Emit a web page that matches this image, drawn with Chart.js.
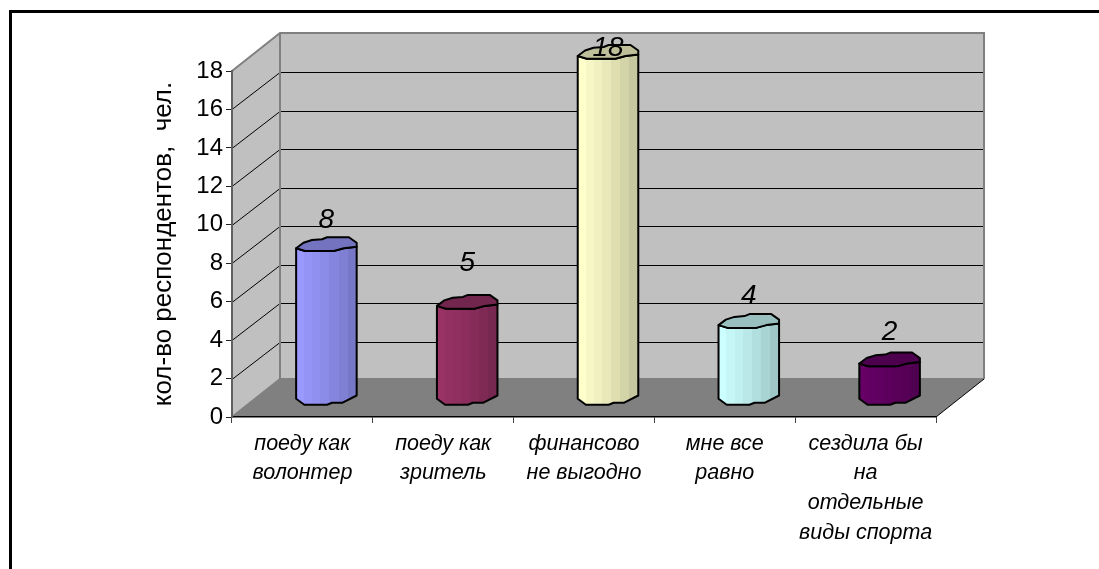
<!DOCTYPE html>
<html><head><meta charset="utf-8">
<style>
html,body{margin:0;padding:0;background:#fff;overflow:hidden}
#frame{position:absolute;left:9px;top:10px;right:0;bottom:0;border-left:3px solid #000;border-top:3px solid #000}
canvas{position:absolute;left:0;top:0}
</style>
<script src="https://cdn.jsdelivr.net/npm/chart.js@4"></script>
</head><body>
<div id="frame"></div>
<canvas id="c" width="1099" height="569"></canvas>
<script>
const categories = [
  ["поеду как","волонтер"],
  ["поеду как","зритель"],
  ["финансово","не выгодно"],
  ["мне все","равно"],
  ["сездила бы","на","отдельные","виды спорта"]
];
const values = [8,5,18,4,2];
const barColors = ["#9999ff","#993366","#ffffcc","#ccffff","#660066"];
const axisTitle = "кол-во респондентов,  чел.";
const labelLift = [25,40,5,26,28];
const FONT = '"Liberation Sans", Arial, sans-serif';
const DX = 48, DY = -38;

const topOutline = [[-1,4],[-.757,-1.5],[-.477,-4.2],[-.143,-5],[.023,-7],[.743,-7],[1,-1.5],[1,2.5],[.577,4],[.243,6.8],[-.7,6.8]];
const bottomOutline = [[-1,1.3],[-.73,7.3],[.02,7.3],[.19,5.3],[.52,5.3],[1,-2]];
const frontTop = [[1,2.5],[.577,4],[.243,6.8],[-.7,6.8],[-1,4]];

function shade(hex,f){
  const n=parseInt(hex.slice(1),16);
  return `rgb(${Math.round((n>>16&255)*f)},${Math.round((n>>8&255)*f)},${Math.round((n&255)*f)})`;
}
const backdrop = {
  id:'backdrop',
  beforeDraw(chart){
    const {ctx,chartArea:a,scales:{y}} = chart;
    const L=a.left,R=a.right,T=a.top,B=a.bottom;
    ctx.save();
    ctx.fillStyle='#c0c0c0';
    ctx.beginPath();ctx.moveTo(L,T);ctx.lineTo(L+DX,T+DY);ctx.lineTo(R+DX,T+DY);ctx.lineTo(R+DX,B+DY);ctx.lineTo(L+DX,B+DY);ctx.lineTo(L,B);ctx.closePath();ctx.fill();
    ctx.fillStyle='#808080';
    ctx.beginPath();ctx.moveTo(L,B);ctx.lineTo(L+DX,B+DY);ctx.lineTo(R+DX,B+DY);ctx.lineTo(R,B);ctx.closePath();ctx.fill();
    ctx.lineWidth=1;ctx.strokeStyle='#000';
    y.ticks.forEach(t=>{
      if(t.value===0||t.value===18) return;
      const p=Math.round(y.getPixelForValue(t.value))+.5;
      ctx.beginPath();ctx.moveTo(L,p);ctx.lineTo(L+DX,p+DY+1);ctx.lineTo(R+DX,p+DY+1);ctx.stroke();
    });
    ctx.strokeStyle='#808080';ctx.lineWidth=2;
    ctx.beginPath();ctx.moveTo(L,T);ctx.lineTo(L+DX,T+DY);ctx.lineTo(R+DX,T+DY);ctx.lineTo(R+DX,B+DY);ctx.stroke();
    ctx.beginPath();ctx.moveTo(L+DX,T+DY);ctx.lineTo(L+DX,B+DY);ctx.lineTo(R+DX,B+DY);ctx.stroke();
    ctx.beginPath();ctx.moveTo(L,B);ctx.lineTo(L+DX,B+DY);ctx.stroke();
    ctx.strokeStyle='#000';ctx.lineWidth=1;
    ctx.beginPath();ctx.moveTo(R,B);ctx.lineTo(R+DX,B+DY);ctx.stroke();
    ctx.restore();
  },
  beforeDatasetDraw(chart,args){
    const {ctx}=chart;
    const els=chart.getDatasetMeta(args.index).data;
    els.forEach((el,i)=>{
      const col=barColors[i];
      const cx=el.x+DX/2, w=el.width/2;
      const ty=el.y+DY/2, by=el.base+DY/2;
      ctx.save();
      ctx.lineWidth=2;ctx.strokeStyle='#000';ctx.lineJoin='round';
      const g=ctx.createLinearGradient(cx-w,0,cx+w,0);
      const strips=[0,.13,.27,.4,.55,.7,.85,1], fac=[1,.97,.94,.91,.87,.83,.78];
      for(let s=0;s<fac.length;s++){
        g.addColorStop(strips[s],shade(col,fac[s]));
        g.addColorStop(strips[s+1],shade(col,fac[s]));
      }
      ctx.beginPath();
      ctx.moveTo(cx-w,ty+4);
      bottomOutline.forEach(p=>ctx.lineTo(cx+p[0]*w,by+p[1]));
      frontTop.forEach(p=>ctx.lineTo(cx+p[0]*w,ty+p[1]));
      ctx.closePath();
      ctx.fillStyle=g;ctx.fill();ctx.stroke();
      ctx.beginPath();
      topOutline.forEach((p,k)=>{k?ctx.lineTo(cx+p[0]*w,ty+p[1]):ctx.moveTo(cx+p[0]*w,ty+p[1]);});
      ctx.closePath();
      ctx.fillStyle=shade(col,.75);ctx.fill();ctx.stroke();
      ctx.restore();
    });
    return false;
  },
  afterDatasetsDraw(chart){
    const {ctx}=chart;
    chart.getDatasetMeta(0).data.forEach((el,i)=>{
      ctx.save();
      ctx.font='italic 28px '+FONT;ctx.fillStyle='#000';
      ctx.textAlign='center';ctx.textBaseline='middle';
      ctx.fillText(String(values[i]),el.x+DX/2,el.y+DY/2-labelLift[i]+1);
      ctx.restore();
    });
  }
};
new Chart(document.getElementById('c'),{
  type:'bar',
  data:{labels:categories,datasets:[{data:values,backgroundColor:barColors,barPercentage:.43,categoryPercentage:1}]},
  plugins:[backdrop],
  options:{
    responsive:false,animation:false,devicePixelRatio:1,
    layout:{padding:{top:71,right:163,left:0,bottom:0}},
    plugins:{legend:{display:false},tooltip:{enabled:false},title:{display:false}},
    scales:{
      x:{
        afterFit(s){s.height=152;},
        border:{color:'#000',width:1.5},
        grid:{display:true,drawOnChartArea:false,tickLength:6,color:'#404040',offset:true},
        ticks:{color:'#000',maxRotation:0,minRotation:0,autoSkip:false,padding:6,font:{family:FONT,size:21.5,style:'italic',lineHeight:1.38}}
      },
      y:{
        min:0,max:18,
        afterFit(s){s.width=232;},
        border:{color:'#606060',width:2},
        grid:{display:true,drawOnChartArea:false,tickLength:6,color:'#202020'},
        ticks:{stepSize:2,color:'#000',padding:3,font:{family:FONT,size:24}},
        title:{display:true,text:axisTitle,color:'#000',padding:{top:148,bottom:0},font:{family:FONT,size:26}}
      }
    }
  }
});
</script>
</body></html>
